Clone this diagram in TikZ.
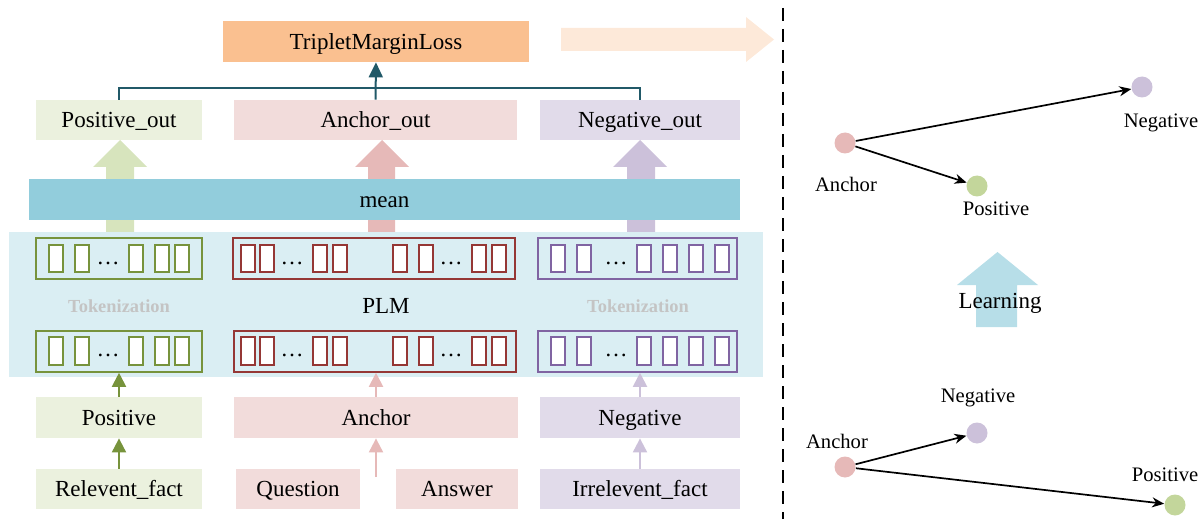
\documentclass[tikz,border=0pt]{standalone}
\usepackage{fontspec}
\setmainfont{Liberation Serif}
\usetikzlibrary{arrows.meta}
\definecolor{lossfill}{HTML}{FAC090}
\definecolor{bigarr}{HTML}{FDE9D9}
\definecolor{tealc}{HTML}{215968}
\definecolor{gbox}{HTML}{EBF1DE}
\definecolor{rbox}{HTML}{F2DCDB}
\definecolor{pbox}{HTML}{E1DBEA}
\definecolor{garr}{HTML}{D7E4BD}
\definecolor{rarr}{HTML}{E6B9B8}
\definecolor{parr}{HTML}{CCC1DA}
\definecolor{meanc}{HTML}{92CDDC}
\definecolor{panelc}{HTML}{DAEEF3}
\definecolor{gtok}{HTML}{77933C}
\definecolor{rtok}{HTML}{953735}
\definecolor{ptok}{HTML}{8064A2}
\definecolor{gdot}{HTML}{C3D69B}
\definecolor{learnc}{HTML}{B7DEE8}
\definecolor{tokgrey}{HTML}{C4C4C4}
\newcommand\bx[7]{\node[fill=#6,text height=7.6pt,text depth=0pt,font=\fontsize{11.5}{13}\selectfont,minimum width={(#4-#2)*0.5pt},minimum height={(#5-#3)*0.5pt},inner sep=0pt] (#1) at ({(#2+#4)/2},{(#3+#5)/2}) {#7};}
\newcommand\cont[6]{\node[draw=#6,line width=0.8pt,minimum width={(#4-#2)*0.5pt},minimum height={(#5-#3)*0.5pt},inner sep=0pt] (#1) at ({(#2+#4)/2},{(#3+#5)/2}) {};}
\newcommand\tokrow[4]{\foreach \xa in {#1}{\draw[draw=#4,fill=white,line width=1pt] (\xa,#2) rectangle ({\xa+14},#3);}}
\begin{document}
\begin{tikzpicture}[x=0.5pt,y=-0.5pt,
  lbl/.style={font=\fontsize{11.5}{13}\selectfont,text height=7.6pt,text depth=0pt},
  rlbl/.style={font=\fontsize{10.3}{12}\selectfont,text height=6.8pt,text depth=0pt},
  tokl/.style={font=\bfseries\fontsize{9.2}{11}\selectfont,text=tokgrey,text height=6.1pt,text depth=0pt},
  dotsl/.style={font=\fontsize{11.5}{13}\selectfont,anchor=base,inner sep=0pt},
  smarrow/.style={line width=1pt,-{Triangle[width=7pt,length=7pt]}},
  blkarrow/.style={-{Stealth[length=6pt,width=5pt]},line width=0.85pt},
  pt/.style={circle,minimum size=10.5pt,inner sep=0pt}]
\useasboundingbox (0,0) rectangle (1200,519);
% big faint arrow
\fill[bigarr] (561,28) -- (746,28) -- (746,17) -- (774,39.5) -- (746,62) -- (746,51) -- (561,51) -- cycle;
% loss box
\bx{loss}{223}{21}{529}{62}{lossfill}{TripletMarginLoss}
% out boxes
\bx{posout}{36}{100}{202}{140}{gbox}{Positive\_out}
\bx{ancout}{234}{100}{517}{140}{rbox}{Anchor\_out}
\bx{negout}{540}{100}{740}{140}{pbox}{Negative\_out}
% connectors to loss
\coordinate (jn) at (376,88);
\draw[tealc,line width=1pt] (posout.north) |- (jn) -| (negout.north);
\draw[tealc,line width=1pt,-{Triangle[width=7pt,length=7.5pt]}] (ancout.north) -- (loss.south);
% block arrows up
\fill[garr] (106,232) -- (106,167) -- (93,167) -- (120,140) -- (147,167) -- (134,167) -- (134,232) -- cycle;
\fill[rarr] (368,232) -- (368,167) -- (355,167) -- (382,140) -- (409,167) -- (395,167) -- (395,232) -- cycle;
\fill[parr] (627,232) -- (627,167) -- (613,167) -- (640,140) -- (667,167) -- (655,167) -- (655,232) -- cycle;
% mean bar
\bx{mean}{29}{179}{740}{220}{meanc}{mean}
% panel
\fill[panelc] (9,232) rectangle (763,377);
\node[lbl] (plm) at (386,306) {PLM};
\node[tokl] (tokl) at (119,306) {Tokenization};
\node[tokl] (tokr) at (638,306) {Tokenization};
% token containers
\cont{gtop}{36}{238}{202}{279}{gtok}
\cont{gbot}{36}{331}{202}{372}{gtok}
\cont{rtop}{233}{238}{515}{279}{rtok}
\cont{rbot}{234}{331}{516}{372}{rtok}
\cont{ptop}{538}{238}{737}{279}{ptok}
\cont{pbot}{538}{331}{737}{372}{ptok}
% tokens
\tokrow{49,75,129,155,175}{245}{272}{gtok}
\tokrow{49,75,129,155,175}{337}{365}{gtok}
\tokrow{241,260,313,333,393,419,472,492}{245}{272}{rtok}
\tokrow{241,260,313,333,393,419,472,492}{337}{365}{rtok}
\tokrow{551,577,637,663,689,715}{245}{272}{ptok}
\tokrow{551,577,637,663,689,715}{337}{365}{ptok}
\foreach \xa/\nm in {108/a,292/b,451/c,616/d}{
  \node[dotsl] (dt\nm) at (\xa,264) {\ldots};
  \node[dotsl] (db\nm) at (\xa,356) {\ldots};
}
% input boxes
\bx{pos}{36}{397}{202}{438}{gbox}{Positive}
\bx{anc}{234}{397}{518}{438}{rbox}{Anchor}
\bx{neg}{540}{397}{740}{438}{pbox}{Negative}
\bx{rel}{36}{469}{202}{509}{gbox}{Relevent\_fact}
\bx{que}{236}{469}{360}{509}{rbox}{Question}
\bx{ans}{396}{469}{518}{509}{rbox}{Answer}
\bx{irr}{540}{469}{740}{509}{pbox}{Irrelevent\_fact}
% small arrows
\draw[smarrow,gtok] (rel.north) -- (pos.south);
\draw[smarrow,gtok] (pos.north) -- (pos.north |- gbot.south);
\coordinate (qa) at (376,477);
\draw[smarrow,rarr] (qa) -- (qa |- anc.south);
\draw[smarrow,rarr] (anc.north) -- (anc.north |- rbot.south);
\draw[smarrow,parr] (irr.north) -- (neg.south);
\draw[smarrow,parr] (neg.north) -- (neg.north |- pbot.south);
% dashed divider
\coordinate (dvt) at (783,8);
\coordinate (dvb) at (783,519);
\draw[line width=1pt,dash pattern=on 6.5pt off 4pt] (dvt) -- (dvb);
% upper right diagram
\node[pt,fill=rarr] (a1) at (845,143) {};
\node[pt,fill=gdot] (p1) at (977,186) {};
\node[pt,fill=parr] (n1) at (1142,87) {};
\node[rlbl] (a1l) at (846,185) {Anchor};
\node[rlbl] (p1l) at (996,209) {Positive};
\node[rlbl] (n1l) at (1161,121) {Negative};
\draw[blkarrow] (a1) -- (n1);
\draw[blkarrow] (a1) -- (p1);
% learning arrow
\fill[learnc] (976,327) -- (976,285) -- (957,285) -- (997.5,252) -- (1038,285) -- (1017,285) -- (1017,327) -- cycle;
\node[lbl] (learn) at (1000,301) {Learning};
% lower right diagram
\node[pt,fill=rarr] (a2) at (845,467) {};
\node[pt,fill=parr] (n2) at (977,433) {};
\node[pt,fill=gdot] (p2) at (1175,505) {};
\node[rlbl] (a2l) at (837,442) {Anchor};
\node[rlbl] (n2l) at (978,396) {Negative};
\node[rlbl] (p2l) at (1165,475) {Positive};
\draw[blkarrow] (a2) -- (n2);
\draw[blkarrow] (a2) -- (p2);
\end{tikzpicture}
\end{document}
